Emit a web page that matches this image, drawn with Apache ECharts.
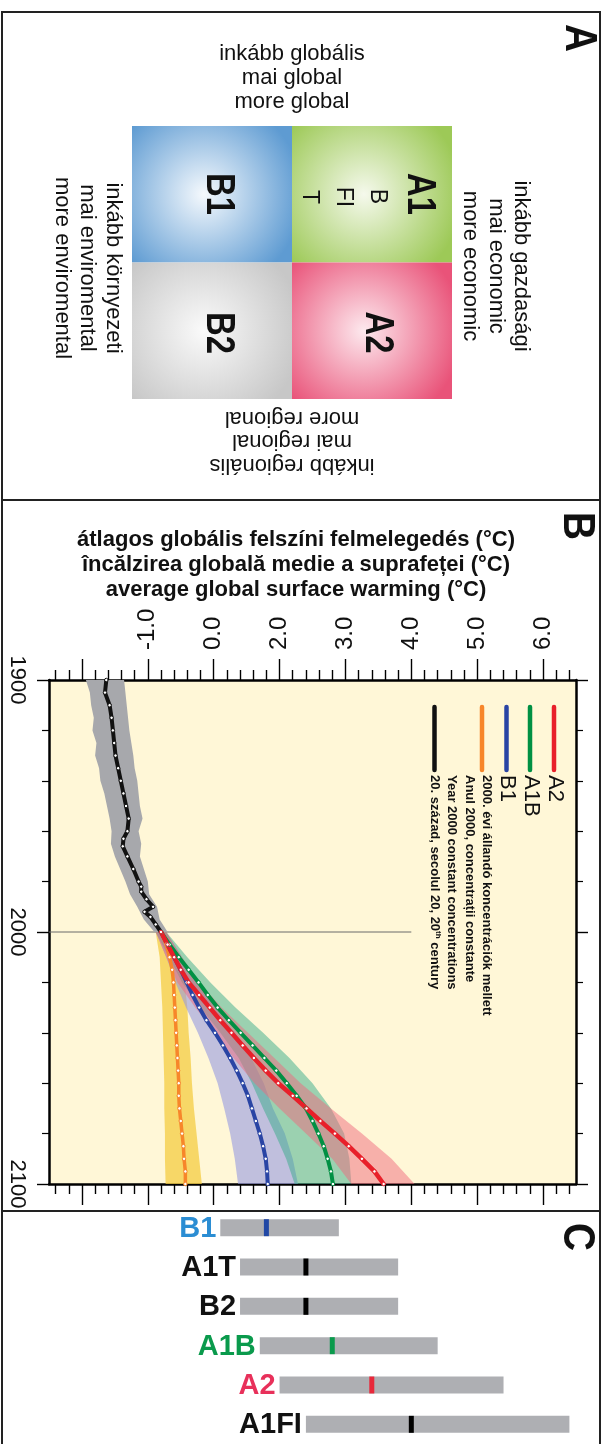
<!DOCTYPE html>
<html>
<head>
<meta charset="UTF-8">
<title></title>
<script src="https://cdn.jsdelivr.net/npm/echarts@6/dist/echarts.min.js"></script>
<style>html,body{margin:0;padding:0;background:#fff;}</style>
</head>
<body>
<div id="main" style="width:604px;height:1444px;"></div>
<script>
var FONT = '"Liberation Sans", Arial, sans-serif';
var chart = echarts.init(document.getElementById('main'));

/* A: scenario quadrants */
var quadCols = ['B', 'A'];
var quadRows = ['1', '2'];
var quadCells = [[0, 0], [1, 0], [0, 1], [1, 1]];
var quadColors = [['#f5f9fd', '#5e9bd2'], ['#f5f9ec', '#9dc957'], ['#fafafa', '#c7c7c7'], ['#fde9ee', '#e95379']];

/* B: warming curves */
var tempTicks = [-1, 0, 1, 2, 3, 4, 5, 6];
var tempTickLabels = ['', '-1.0', '0.0', '2.0', '3.0', '4.0', '5.0', '6.0'];

var histYears = [1900, 1905, 1910, 1915, 1920, 1925, 1930, 1935, 1940, 1945, 1950, 1955, 1960, 1963, 1966, 1970, 1975, 1980, 1982, 1984, 1987, 1990, 1992, 1994, 1997, 2000];
var histMean = [-0.63, -0.65, -0.58, -0.55, -0.53, -0.51, -0.49, -0.45, -0.41, -0.37, -0.33, -0.29, -0.31, -0.37, -0.38, -0.31, -0.22, -0.14, -0.10, -0.10, -0.02, 0.08, -0.05, 0.04, 0.12, 0.20];
var histBandYears = [1900, 1905, 1910, 1915, 1920, 1925, 1930, 1935, 1940, 1945, 1950, 1955, 1960, 1965, 1970, 1975, 1980, 1985, 1990, 1995, 2000];
var histLow = [-0.94, -0.88, -0.86, -0.82, -0.84, -0.78, -0.80, -0.74, -0.72, -0.66, -0.62, -0.58, -0.55, -0.56, -0.50, -0.42, -0.34, -0.27, -0.16, -0.06, 0.10];
var histHigh = [-0.36, -0.34, -0.32, -0.30, -0.28, -0.25, -0.22, -0.20, -0.16, -0.14, -0.12, -0.08, -0.14, -0.10, -0.12, -0.06, 0.00, 0.02, 0.14, 0.18, 0.30];

var scenYears = [2000, 2005, 2010, 2015, 2020, 2025, 2030, 2035, 2040, 2045, 2050, 2055, 2060, 2065, 2070, 2075, 2080, 2085, 2090, 2095, 2100];
var a2Mean = [0.20, 0.30, 0.40, 0.50, 0.62, 0.78, 0.94, 1.10, 1.27, 1.44, 1.61, 1.79, 1.98, 2.20, 2.41, 2.62, 2.84, 3.05, 3.25, 3.44, 3.58];
var a1bMean = [0.20, 0.33, 0.47, 0.62, 0.77, 0.91, 1.06, 1.23, 1.41, 1.59, 1.77, 1.95, 2.11, 2.26, 2.40, 2.50, 2.59, 2.67, 2.73, 2.78, 2.81];
var b1Mean = [0.20, 0.30, 0.40, 0.50, 0.59, 0.68, 0.78, 0.89, 1.02, 1.14, 1.25, 1.35, 1.44, 1.52, 1.58, 1.64, 1.70, 1.75, 1.79, 1.81, 1.82];
var constMean = [0.20, 0.28, 0.33, 0.37, 0.39, 0.40, 0.41, 0.42, 0.43, 0.44, 0.45, 0.46, 0.47, 0.47, 0.48, 0.50, 0.52, 0.54, 0.55, 0.57, 0.57];

var bandYears = [2000, 2010, 2020, 2030, 2040, 2050, 2060, 2070, 2080, 2090, 2100];
var a2Low = [0.12, 0.28, 0.45, 0.72, 1.02, 1.30, 1.62, 2.00, 2.40, 2.80, 3.09];
var a2High = [0.28, 0.52, 0.78, 1.12, 1.52, 1.92, 2.32, 2.78, 3.25, 3.70, 4.05];
var a1bLow = [0.12, 0.32, 0.52, 0.80, 1.10, 1.38, 1.58, 1.75, 1.93, 2.10, 2.23];
var a1bHigh = [0.28, 0.60, 0.95, 1.33, 1.75, 2.15, 2.50, 2.78, 2.98, 3.06, 3.09];
var b1Low = [0.12, 0.28, 0.42, 0.58, 0.76, 0.92, 1.06, 1.16, 1.25, 1.32, 1.37];
var b1High = [0.28, 0.52, 0.75, 1.02, 1.32, 1.57, 1.76, 1.90, 2.08, 2.20, 2.28];
var constLow = [0.12, 0.18, 0.20, 0.22, 0.23, 0.24, 0.25, 0.25, 0.26, 0.26, 0.27];
var constHigh = [0.28, 0.48, 0.56, 0.60, 0.62, 0.65, 0.67, 0.70, 0.74, 0.78, 0.82];

var refLineTemps = [-1.5, 4.0];

/* C: likely ranges for 2090-2099 */
var rangeNames = ['B1', 'A1T', 'B2', 'A1B', 'A2', 'A1FI'];
var rangeLow = [1.1, 1.4, 1.4, 1.7, 2.0, 2.4];
var rangeHigh = [2.9, 3.8, 3.8, 4.4, 5.4, 6.4];
var rangeBest = [1.8, 2.4, 2.4, 2.8, 3.4, 4.0];
var rangeLabelColors = ['#2b8dd3', '#111', '#111', '#0a9a4c', '#e8305a', '#111'];
var rangeMarkColors = ['#2148a5', '#000', '#000', '#0a9a4c', '#e8283a', '#000'];

var legendNames = ['A2', 'A1B', 'B1'];
var legendConst = ['2000. évi állandó koncentrációk mellett', 'Anul 2000, concentrații constante', 'Year 2000 constant concentrations'];
var legendHist = '20. század, secolul 20, 20{sup|th} century';

var C_A2 = '#e8202a', C_A1B = '#009043', C_B1 = '#2944a4', C_CONST = '#f7862a', C_HIST = '#111';

var minorTicks = [];
for (var k = -7; k <= 32; k++) {
  if (k % 5 !== 0) minorTicks.push(Math.round(k * 2) / 10);
}

function bandSeries(years, low, high, color) {
  return {
    type: 'custom', xAxisIndex: 1, yAxisIndex: 1, z: 2, silent: true, clip: true,
    data: years.map(function (y, i) { return [low[i], high[i], y]; }),
    encode: { x: [0, 1], y: 2 },
    renderItem: function (params, api) {
      if (params.dataIndex !== 0) return;
      var pts = [];
      for (var i = 0; i < years.length; i++) pts.push(api.coord([low[i], years[i]]));
      for (var j = years.length - 1; j >= 0; j--) pts.push(api.coord([high[j], years[j]]));
      return { type: 'polygon', shape: { points: pts }, style: { fill: color } };
    }
  };
}

function lineSeries(years, vals, color, width) {
  return {
    type: 'line', xAxisIndex: 1, yAxisIndex: 1, z: 5, silent: true,
    data: years.map(function (y, i) { return [vals[i], y]; }),
    symbol: 'circle', symbolSize: 3.5,
    itemStyle: { color: '#fff', borderColor: color, borderWidth: 1 },
    lineStyle: { color: color, width: width }
  };
}

function txt(text, x, y, o) {
  o = o || {};
  return {
    type: 'text', x: x, y: y, rotation: o.rot || 0, scaleX: o.sx || 1, z: 20,
    style: {
      text: text, fill: o.fill || '#111', font: o.font || ('22px ' + FONT),
      textAlign: o.align || 'center', align: o.align || 'center',
      textVerticalAlign: 'middle', verticalAlign: 'middle', rich: o.rich
    }
  };
}

var CW = -Math.PI / 2;
var graphics = [
  { type: 'rect', z: 30, shape: { x: 2, y: 12, width: 598, height: 1450 }, style: { fill: 'none', stroke: '#222', lineWidth: 2 } },
  { type: 'line', z: 30, shape: { x1: 2, y1: 500, x2: 600, y2: 500 }, style: { stroke: '#222', lineWidth: 2 } },
  { type: 'line', z: 30, shape: { x1: 2, y1: 1211, x2: 600, y2: 1211 }, style: { stroke: '#222', lineWidth: 2 } },
  txt('A', 578, 38, { rot: CW, sx: 0.88, font: 'bold 44px ' + FONT }),
  txt('B', 576, 526, { rot: CW, sx: 0.88, font: 'bold 44px ' + FONT }),
  txt('C', 576, 1237, { rot: CW, sx: 0.88, font: 'bold 44px ' + FONT }),
  // panel A texts
  txt('inkább globális', 292, 54),
  txt('mai global', 292, 78),
  txt('more global', 292, 102),
  txt('more regional', 292, 418, { rot: Math.PI }),
  txt('mai regional', 292, 441.5, { rot: Math.PI }),
  txt('inkább regionális', 292, 465, { rot: Math.PI }),
  txt('inkább gazdasági', 521, 266, { rot: CW }),
  txt('mai economic', 496, 266, { rot: CW }),
  txt('more economic', 470, 266, { rot: CW }),
  txt('inkább környezeti', 113, 268, { rot: CW }),
  txt('mai enviromental', 87.5, 268, { rot: CW }),
  txt('more enviromental', 62, 268, { rot: CW }),
  txt('A1', 419, 194, { rot: CW, sx: 0.82, font: 'bold 40px ' + FONT }),
  txt('B', 377, 196.5, { rot: CW, font: '23px ' + FONT }),
  txt('FI', 343, 197, { rot: CW, font: '23px ' + FONT }),
  txt('T', 309, 197, { rot: CW, font: '23px ' + FONT }),
  txt('B1', 218, 194, { rot: CW, sx: 0.82, font: 'bold 40px ' + FONT }),
  txt('B2', 218, 333, { rot: CW, sx: 0.82, font: 'bold 40px ' + FONT }),
  txt('A2', 377.5, 332.5, { rot: CW, sx: 0.82, font: 'bold 40px ' + FONT }),
  // panel B title
  txt('átlagos globális felszíni felmelegedés (°C)', 296, 539.5, { font: 'bold 22px ' + FONT }),
  txt('încălzirea globală medie a suprafeței (°C)', 296, 564.5, { font: 'bold 22px ' + FONT }),
  txt('average global surface warming (°C)', 296, 589.5, { font: 'bold 22px ' + FONT })
];

// legend
var legendLines = [[554, C_A2], [530, C_A1B], [506.5, C_B1], [482, C_CONST], [434.5, C_HIST]];
legendLines.forEach(function (l) {
  graphics.push({ type: 'line', z: 20, shape: { x1: l[0], y1: 707, x2: l[0], y2: 770 }, style: { stroke: l[1], lineWidth: 4.5, lineCap: 'round' } });
});
var legendNameX = [555.5, 531.5, 507.5];
legendNames.forEach(function (n, i) {
  graphics.push(txt(n, legendNameX[i], 775, { rot: CW, align: 'left', font: '22px ' + FONT }));
});
var legendConstX = [486.5, 469.5, 452];
legendConst.forEach(function (n, i) {
  graphics.push(txt(n, legendConstX[i], 775, { rot: CW, align: 'left', font: 'bold 13px ' + FONT }));
});
graphics.push(txt(legendHist, 435, 775, {
  rot: CW, align: 'left', font: 'bold 13px ' + FONT,
  rich: { sup: { fontSize: 8, fontWeight: 'bold', fontFamily: FONT, fill: '#111', verticalAlign: 'top', padding: [0, 0, 6, 0] } }
}));

var tempAxisBase = { type: 'value', min: -1.5, max: 6.5, splitLine: { show: false } };
function tempAxis(pos, ticks, len, withLine, withLabel) {
  return Object.assign({}, tempAxisBase, {
    gridIndex: 1, position: pos,
    axisLine: { show: withLine, onZero: false, lineStyle: { color: '#000', width: 2.5 } },
    axisTick: { show: true, customValues: ticks, length: len, lineStyle: { color: '#000', width: 1.4 } },
    axisLabel: withLabel ? {
      show: true, customValues: tempTicks, rotate: -90, margin: 30, fontSize: 24, color: '#111', fontFamily: FONT,
      formatter: function (v) { var i = tempTicks.indexOf(Math.round(v)); return i >= 0 ? tempTickLabels[i] : ''; }
    } : { show: false }
  });
}
function yearAxis(pos, withLabel) {
  return {
    gridIndex: 1, type: 'value', position: pos, inverse: true, min: 1900, max: 2100, interval: 100,
    axisLine: { show: true, onZero: false, lineStyle: { color: '#000', width: 2.5 } },
    axisTick: { show: true, length: 12, lineStyle: { color: '#000', width: 1.4 } },
    minorTick: { show: true, splitNumber: 5, length: 7, lineStyle: { color: '#000', width: 1.2 } },
    axisLabel: {
      show: withLabel, rotate: -90, margin: 21, fontSize: 22, color: '#111', fontFamily: FONT,
      formatter: function (v) { return String(v); }
    },
    splitLine: { show: false }, minorSplitLine: { show: false }
  };
}

var option = {
  animation: false,
  backgroundColor: '#fff',
  graphic: graphics,
  grid: [
    { left: 132, top: 126, width: 320, height: 273 },
    { left: 49, top: 680, width: 527, height: 504, show: true, backgroundColor: '#fff7d7', borderWidth: 0 },
    { left: 49, top: 1208, width: 527, height: 244 }
  ],
  xAxis: [
    { gridIndex: 0, type: 'category', data: quadCols, show: false },
    tempAxis('top', tempTicks, 21, true, true),
    tempAxis('top', minorTicks, 10, false, false),
    tempAxis('bottom', tempTicks, 21, true, false),
    tempAxis('bottom', minorTicks, 10, false, false),
    Object.assign({}, tempAxisBase, { gridIndex: 2, show: false })
  ],
  yAxis: [
    { gridIndex: 0, type: 'category', data: quadRows, inverse: true, show: false },
    yearAxis('left', true),
    yearAxis('right', false),
    { gridIndex: 2, type: 'category', data: rangeNames, inverse: true, show: false }
  ],
  series: [
    {
      type: 'custom', xAxisIndex: 0, yAxisIndex: 0, silent: true,
      data: quadCells, encode: { x: 0, y: 1 },
      renderItem: function (params, api) {
        var c = api.coord([api.value(0), api.value(1)]);
        var s = api.size([1, 1]);
        var col = quadColors[params.dataIndex];
        return {
          type: 'rect',
          shape: { x: c[0] - s[0] / 2, y: c[1] - s[1] / 2, width: s[0], height: s[1] },
          style: { fill: new echarts.graphic.RadialGradient(0.45, 0.5, 0.72, [{ offset: 0, color: col[0] }, { offset: 1, color: col[1] }]) }
        };
      }
    },
    {
      type: 'line', xAxisIndex: 1, yAxisIndex: 1, z: 1, silent: true, showSymbol: false,
      data: refLineTemps.map(function (t) { return [t, 2000]; }),
      lineStyle: { color: '#6b6b6b', width: 1 }
    },
    bandSeries(histBandYears, histLow, histHigh, '#a7a8ac'),
    bandSeries(bandYears, constLow, constHigh, 'rgba(244, 204, 66, 0.75)'),
    bandSeries(bandYears, b1Low, b1High, 'rgba(150, 154, 225, 0.6)'),
    bandSeries(bandYears, a1bLow, a1bHigh, 'rgba(56, 172, 138, 0.5)'),
    bandSeries(bandYears, a2Low, a2High, 'rgba(240, 105, 125, 0.5)'),
    lineSeries(histYears, histMean, C_HIST, 4),
    lineSeries(scenYears, constMean, C_CONST, 3.5),
    lineSeries(scenYears, b1Mean, C_B1, 4),
    lineSeries(scenYears, a1bMean, C_A1B, 4),
    lineSeries(scenYears, a2Mean, C_A2, 4.5),
    {
      type: 'custom', xAxisIndex: 5, yAxisIndex: 3, silent: true,
      data: rangeNames.map(function (n, i) { return [i, rangeLow[i], rangeHigh[i], rangeBest[i]]; }),
      encode: { y: 0, x: [1, 2, 3] },
      renderItem: function (params, api) {
        var i = params.dataIndex;
        var cat = api.value(0);
        var p0 = api.coord([api.value(1), cat]);
        var p1 = api.coord([api.value(2), cat]);
        var pb = api.coord([api.value(3), cat]);
        var h = 17;
        return {
          type: 'group', children: [
            { type: 'rect', shape: { x: p0[0], y: p0[1] - h / 2, width: p1[0] - p0[0], height: h }, style: { fill: '#aeafb3' } },
            { type: 'rect', shape: { x: pb[0] - 2.5, y: p0[1] - h / 2, width: 5, height: h }, style: { fill: rangeMarkColors[i] } },
            { type: 'text', x: p0[0] - 4, y: p0[1] + 1, style: { text: rangeNames[i], fill: rangeLabelColors[i], font: 'bold 29px ' + FONT, align: 'right', verticalAlign: 'middle' } }
          ]
        };
      }
    }
  ]
};
chart.setOption(option);
</script>
</body>
</html>
